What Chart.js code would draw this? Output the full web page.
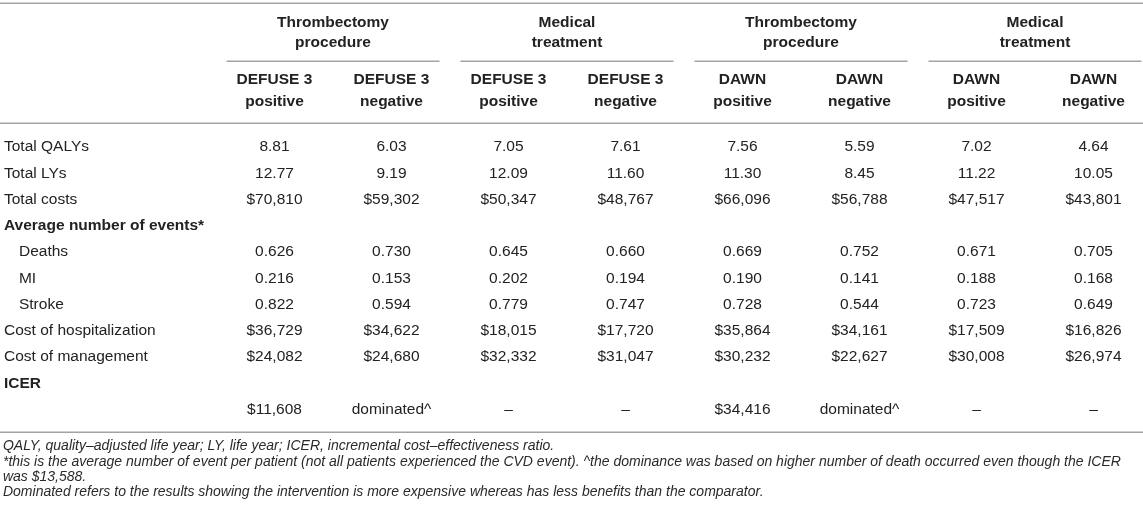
<!DOCTYPE html>
<html>
<head>
<meta charset="utf-8">
<script src="https://cdn.jsdelivr.net/npm/chart.js@4.4.1/dist/chart.umd.min.js"></script>
<style>
html, body { margin: 0; padding: 0; background: #ffffff; }
#wrap { width: 1143px; height: 519px; position: relative; }
</style>
</head>
<body>
<div id="wrap"><canvas id="c"></canvas></div>
<script>
// ---------------- data ----------------
const groupHeaders = [["Thrombectomy", "procedure"], ["Medical", "treatment"], ["Thrombectomy", "procedure"], ["Medical", "treatment"]];
const columnHeaders = [
  ["DEFUSE 3", "positive"], ["DEFUSE 3", "negative"],
  ["DEFUSE 3", "positive"], ["DEFUSE 3", "negative"],
  ["DAWN", "positive"], ["DAWN", "negative"],
  ["DAWN", "positive"], ["DAWN", "negative"]
];
const rowLabels = ["Total QALYs", "Total LYs", "Total costs", "Average number of events*", "Deaths", "MI", "Stroke",
  "Cost of hospitalization", "Cost of management", "ICER", ""];
const sectionRows = ["Average number of events*", "ICER"];
const indentedRows = ["Deaths", "MI", "Stroke"];

const totalQALYs = [8.81, 6.03, 7.05, 7.61, 7.56, 5.59, 7.02, 4.64];
const totalLYs = [12.77, 9.19, 12.09, 11.60, 11.30, 8.45, 11.22, 10.05];
const totalCosts = [70810, 59302, 50347, 48767, 66096, 56788, 47517, 43801];
const deaths = [0.626, 0.730, 0.645, 0.660, 0.669, 0.752, 0.671, 0.705];
const mi = [0.216, 0.153, 0.202, 0.194, 0.190, 0.141, 0.188, 0.168];
const stroke = [0.822, 0.594, 0.779, 0.747, 0.728, 0.544, 0.723, 0.649];
const costHospitalization = [36729, 34622, 18015, 17720, 35864, 34161, 17509, 16826];
const costManagement = [24082, 24680, 32332, 31047, 30232, 22627, 30008, 26974];
const icer = ["$11,608", "dominated^", "–", "–", "$34,416", "dominated^", "–", "–"];

const footnotes = [
  "QALY, quality–adjusted life year; LY, life year; ICER, incremental cost–effectiveness ratio.",
  "*this is the average number of event per patient (not all patients experienced the CVD event). ^the dominance was based on higher number of death occurred even though the ICER",
  "was $13,588.",
  "Dominated refers to the results showing the intervention is more expensive whereas has less benefits than the comparator."
];

// ---------------- formatting ----------------
const fmt2 = v => v.toFixed(2);
const fmt3 = v => v.toFixed(3);
const fmtUsd = v => "$" + v.toLocaleString("en-US");
const asIs = v => v;

const bodyRows = [
  { row: 0, values: totalQALYs, f: fmt2 },
  { row: 1, values: totalLYs, f: fmt2 },
  { row: 2, values: totalCosts, f: fmtUsd },
  { row: 4, values: deaths, f: fmt3 },
  { row: 5, values: mi, f: fmt3 },
  { row: 6, values: stroke, f: fmt3 },
  { row: 7, values: costHospitalization, f: fmtUsd },
  { row: 8, values: costManagement, f: fmtUsd },
  { row: 10, values: icer, f: asIs }
];

// ---------------- layout (scale units) ----------------
const L = {
  xMin: -1.346, xMax: 8.423,
  yMin: -5.6, yMax: 14.171,
  labelX: -1.312, indentX: -1.184,
  topLine: -5.486,
  groupLine1: -4.724, groupLine2: -3.962,
  groupRule: -3.276, groupHalf: 0.91,
  subLine1: -2.552, subLine2: -1.714,
  headRule: -0.914,
  bottomRule: 10.857,
  footY: [11.39, 11.99, 12.57, 13.15]
};
const FONT = '"Liberation Sans", Arial, Helvetica, sans-serif';
const BODY_SIZE = '15.5px ';
const FOOT_SIZE = '14px ';
const TXT = '#222222';
const RULE = '#a3a3a3';

const datasets = bodyRows.map(r => ({
  label: rowLabels[r.row] || 'ICER values',
  data: r.values.map((v, i) => ({ x: i + 1, y: r.row })),
  cellText: r.values.map(r.f),
  pointRadius: 0,
  pointHoverRadius: 0,
  showLine: false
}));

const tablePlugin = {
  id: 'tablePlugin',
  afterDatasetsDraw(chart) {
    const ctx = chart.ctx;
    const xs = chart.scales.x, ys = chart.scales.y;
    const X = v => xs.getPixelForValue(v);
    const Y = v => ys.getPixelForValue(v);
    ctx.save();
    // rules
    ctx.strokeStyle = RULE;
    ctx.lineWidth = 1.5;
    const hline = (yv, x0, x1) => {
      ctx.beginPath();
      ctx.moveTo(x0, Math.round(Y(yv)) + 0.25);
      ctx.lineTo(x1, Math.round(Y(yv)) + 0.25);
      ctx.stroke();
    };
    hline(L.topLine, 0, chart.width);
    hline(L.headRule, 0, chart.width);
    hline(L.bottomRule, 0, chart.width);
    groupHeaders.forEach((g, gi) => {
      const c = gi * 2 + 1.5;
      hline(L.groupRule, X(c - L.groupHalf), X(c + L.groupHalf));
    });

    ctx.fillStyle = TXT;
    ctx.textBaseline = 'middle';
    // group headers
    ctx.textAlign = 'center';
    ctx.font = 'bold ' + BODY_SIZE + FONT;
    groupHeaders.forEach((g, gi) => {
      const c = gi * 2 + 1.5;
      ctx.fillText(g[0], X(c), Y(L.groupLine1));
      ctx.fillText(g[1], X(c), Y(L.groupLine2));
    });
    // column headers
    columnHeaders.forEach((h, i) => {
      ctx.fillText(h[0], X(i + 1), Y(L.subLine1));
      ctx.fillText(h[1], X(i + 1), Y(L.subLine2));
    });
    // row labels
    ctx.textAlign = 'left';
    rowLabels.forEach((lab, r) => {
      if (!lab) return;
      const bold = sectionRows.includes(lab);
      const ind = indentedRows.includes(lab);
      ctx.font = (bold ? 'bold ' : '') + BODY_SIZE + FONT;
      ctx.fillText(lab, X(ind ? L.indentX : L.labelX), Y(r));
    });
    // cells
    ctx.textAlign = 'center';
    ctx.font = BODY_SIZE + FONT;
    chart.data.datasets.forEach((ds, di) => {
      const meta = chart.getDatasetMeta(di);
      meta.data.forEach((pt, i) => {
        ctx.fillText(ds.cellText[i], pt.x, pt.y);
      });
    });
    // footnotes
    ctx.textAlign = 'left';
    ctx.font = 'italic ' + FOOT_SIZE + FONT;
    ctx.fillStyle = '#2a2a2a';
    footnotes.forEach((t, i) => {
      ctx.fillText(t, X(L.labelX) - 1, Y(L.footY[i]));
    });
    ctx.restore();
  }
};

new Chart(document.getElementById('c'), {
  type: 'scatter',
  data: { datasets },
  options: {
    responsive: true,
    maintainAspectRatio: false,
    animation: false,
    events: [],
    layout: { padding: 0 },
    plugins: { legend: { display: false }, tooltip: { enabled: false }, title: { display: false } },
    scales: {
      x: { type: 'linear', display: false, min: L.xMin, max: L.xMax },
      y: { type: 'linear', display: false, reverse: true, min: L.yMin, max: L.yMax }
    }
  },
  plugins: [tablePlugin]
});
</script>
</body>
</html>
